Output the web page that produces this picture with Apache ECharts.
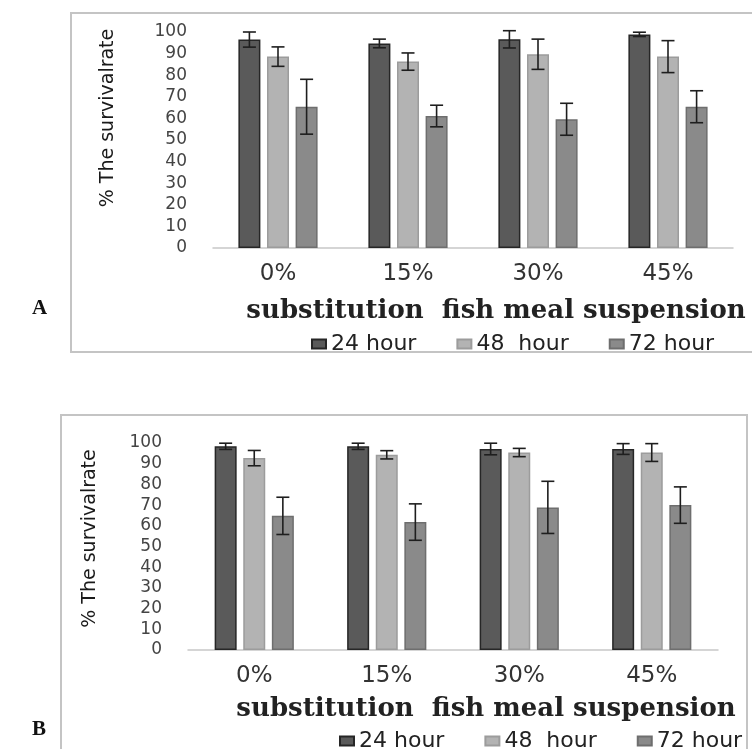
<!DOCTYPE html>
<html><head><meta charset="utf-8">
<script src="https://cdn.jsdelivr.net/npm/echarts@6/dist/echarts.min.js"></script>
<style>html,body{margin:0;padding:0;background:#fff}#c{width:752px;height:749px}</style>
</head><body><div id="c"></div>
<script>
const categories = ['0%', '15%', '30%', '45%'];
const seriesNames = ['24 hour', '48  hour', '72 hour'];
const yTicks = [0, 100, 10];

const a24 = [96.5, 94.7, 96.6, 98.9];
const a24Err = [3.5, 2, 4, 1];
const a48 = [88.6, 86.3, 89.7, 88.6];
const a48Err = [4.5, 4, 7, 7.4];
const a72 = [65.4, 61.1, 59.6, 65.4];
const a72Err = [12.7, 5, 7.4, 7.4];

const b24 = [98.4, 98.4, 97.1, 97.1];
const b24Err = [1.5, 1.5, 2.8, 2.6];
const b48 = [92.7, 94.3, 95.4, 95.4];
const b48Err = [3.7, 2, 2, 4.3];
const b72 = [64.8, 61.8, 68.9, 70];
const b72Err = [9, 8.8, 12.6, 8.8];

const colors = ['#5a5a5a', '#b3b3b3', '#8a8a8a'];
const borders = ['#262626', '#9c9c9c', '#6e6e6e'];
const BAR_W = 22, GAP = 0.3;

const chart = echarts.init(document.getElementById('c'));

function yAxis(gridIndex, gap, pad) {
  return {
    gridIndex, type: 'value', min: yTicks[0], max: yTicks[1], interval: yTicks[2],
    axisLine: {show: false}, axisTick: {show: false}, splitLine: {show: false},
    axisLabel: {color: '#444', fontFamily: 'DejaVu Sans', fontSize: 17, margin: 26},
    name: '% The survivalrate', nameLocation: 'middle', nameGap: gap,
    nameTextStyle: {fontFamily: 'DejaVu Sans', fontSize: 19, color: '#1a1a1a', padding: pad}
  };
}
function xAxis(gridIndex, gap, pad) {
  return {
    gridIndex, type: 'category', data: categories,
    axisLine: {lineStyle: {color: '#c8c8c8', width: 1.5}}, axisTick: {show: false},
    axisLabel: {color: '#333', fontFamily: 'DejaVu Sans', fontSize: 23, margin: 15},
    name: 'substitution  fish meal suspension', nameLocation: 'middle', nameGap: gap,
    nameTextStyle: {fontFamily: 'DejaVu Serif', fontWeight: 'bold', fontSize: 26, color: '#222', padding: pad}
  };
}
function bars(idx, vals, i) {
  return {
    name: seriesNames[i], type: 'bar', xAxisIndex: idx, yAxisIndex: idx, data: vals,
    barWidth: BAR_W, barGap: (GAP * 100) + '%',
    itemStyle: {color: colors[i], borderColor: borders[i], borderWidth: 1.5}
  };
}
function errs(idx, vals, errVals, i) {
  return {
    name: 'err' + idx + i, type: 'custom', xAxisIndex: idx, yAxisIndex: idx, z: 10,
    data: vals.map((v, k) => [k, v, errVals[k]]),
    renderItem: function (params, api) {
      const k = api.value(0), v = api.value(1), e = api.value(2);
      const hi = api.coord([k, v + e]);
      const lo = api.coord([k, v - e]);
      const off = (i - 1) * BAR_W * (1 + GAP);
      const x = hi[0] + off, cap = 6.5;
      const st = {stroke: '#1e1e1e', lineWidth: 1.6};
      return {type: 'group', children: [
        {type: 'line', shape: {x1: x, y1: hi[1], x2: x, y2: lo[1]}, style: st},
        {type: 'line', shape: {x1: x - cap, y1: hi[1], x2: x + cap, y2: hi[1]}, style: st},
        {type: 'line', shape: {x1: x - cap, y1: lo[1], x2: x + cap, y2: lo[1]}, style: st}
      ]};
    }
  };
}
const legendBase = {
  data: seriesNames, icon: 'rect', itemWidth: 14, itemHeight: 9, itemGap: 40,
  textStyle: {fontFamily: 'DejaVu Sans', fontSize: 22, color: '#222'}
};

chart.setOption({
  animation: false,
  grid: [
    {left: 213, right: 19, top: 32, height: 216},
    {left: 188, right: 34, top: 443, height: 207}
  ],
  xAxis: [xAxis(0, 50, [0, 0, 0, 46]), xAxis(1, 46, [0, 0, 0, 66])],
  yAxis: [yAxis(0, 95, [0, 0, 0, 44]), yAxis(1, 88, [0, 0, 0, 16])],
  legend: [
    Object.assign({left: 306, top: 328}, legendBase),
    Object.assign({left: 334, top: 725}, legendBase)
  ],
  graphic: [
    {type: 'rect', shape: {x: 71, y: 13, width: 700, height: 339}, style: {fill: 'none', stroke: '#c4c4c4', lineWidth: 2}, silent: true},
    {type: 'rect', shape: {x: 61, y: 415, width: 686, height: 400}, style: {fill: 'none', stroke: '#c4c4c4', lineWidth: 2}, silent: true},
    {type: 'text', left: 32, top: 298, style: {text: 'A', font: 'bold 21px "Liberation Serif"', fill: '#111'}},
    {type: 'text', left: 32, top: 719, style: {text: 'B', font: 'bold 21px "Liberation Serif"', fill: '#111'}}
  ],
  series: [
    bars(0, a24, 0), bars(0, a48, 1), bars(0, a72, 2),
    bars(1, b24, 0), bars(1, b48, 1), bars(1, b72, 2),
    errs(0, a24, a24Err, 0), errs(0, a48, a48Err, 1), errs(0, a72, a72Err, 2),
    errs(1, b24, b24Err, 0), errs(1, b48, b48Err, 1), errs(1, b72, b72Err, 2)
  ]
});
</script></body></html>
